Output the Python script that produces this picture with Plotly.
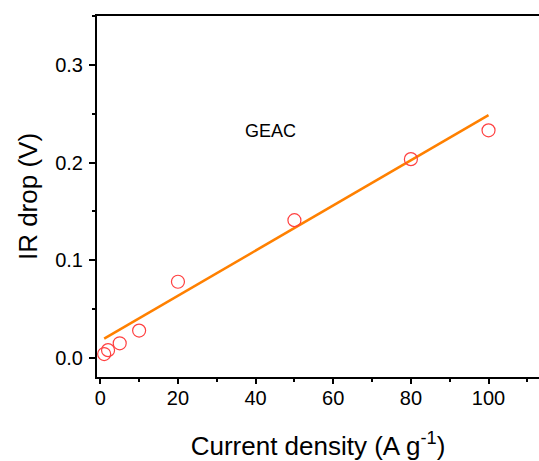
import plotly.graph_objects as go

# Measured IR drop versus current density (GEAC electrode)
current_density = [1, 2, 5, 10, 20, 50, 80, 100]
ir_drop = [0.004, 0.008, 0.015, 0.028, 0.078, 0.141, 0.2035, 0.233]

# Linear fit line endpoints
fit_x = [1, 100]
fit_y = [0.0197, 0.2485]

FONT = "Arial, Liberation Sans, sans-serif"

fig = go.Figure()

fig.add_trace(go.Scatter(
    x=fit_x, y=fit_y, mode="lines",
    line=dict(color="#ff8000", width=2.5),
    showlegend=False, hoverinfo="skip",
))

fig.add_trace(go.Scatter(
    x=current_density, y=ir_drop, mode="markers",
    marker=dict(symbol="circle-open", size=13,
                color="#ff4040", line=dict(width=1.2, color="#ff4040")),
    showlegend=False,
))

fig.add_annotation(
    x=43.8, y=0.232, text="GEAC", showarrow=False,
    font=dict(family=FONT, size=18, color="black"),
)

fig.update_layout(
    xaxis=dict(
        range=[-0.85, 113.0],
        tickmode="linear", tick0=0, dtick=20,
        ticks="outside", ticklen=5, tickwidth=1.5, tickcolor="black",
        tickfont=dict(family=FONT, size=20, color="black"),
        ticklabelstandoff=-3,
        minor=dict(ticks="outside", ticklen=3, tickwidth=1.5, tickcolor="black", dtick=10, tick0=0),
        showline=True, linecolor="black", linewidth=2, mirror=True,
        showgrid=False, zeroline=False,
        title=dict(text="Current density (A g<sup>-1</sup>)",
                   font=dict(family=FONT, size=26, color="black"), standoff=30),
    ),
    yaxis=dict(
        range=[-0.0195, 0.35],
        tickmode="linear", tick0=0, dtick=0.1, tickformat=".1f",
        ticks="outside", ticklen=6, tickwidth=1.5, tickcolor="black",
        tickfont=dict(family=FONT, size=20, color="black"),
        ticklabelstandoff=2,
        minor=dict(ticks="outside", ticklen=3.5, tickwidth=1.5, tickcolor="black", dtick=0.05, tick0=0),
        showline=True, linecolor="black", linewidth=2, mirror=False,
        showgrid=False, zeroline=False,
        title=dict(text="IR drop (V)",
                   font=dict(family=FONT, size=26, color="black"), standoff=10),
    ),
    font=dict(family=FONT, size=20, color="black"),
    width=539, height=461,
    margin=dict(l=97, r=0, t=16, b=84),
    plot_bgcolor="white", paper_bgcolor="white",
    template="none",
)

fig.write_html("out.html")
